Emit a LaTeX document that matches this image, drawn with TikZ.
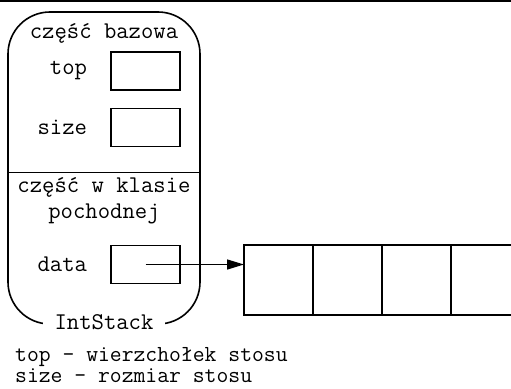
\documentclass[tikz,border=0pt]{standalone}
\usepackage{fontspec}
\usetikzlibrary{positioning,arrows.meta}
\tikzset{
  field/.style={draw,line width=1.5pt,minimum width=69pt,minimum height=38pt,inner sep=0pt},
  cell/.style={draw,line width=1.5pt,minimum width=69pt,minimum height=70pt,inner sep=0pt,outer sep=0pt},
  txt/.style={inner sep=2pt}
}
\begin{document}
\begin{tikzpicture}[x=1pt,y=-1pt,font=\ttfamily\fontsize{24}{26}\selectfont]
\useasboundingbox (0,0) rectangle (511,388);
\clip (0,0) rectangle (511,388);
\draw [line width=1.7pt] (0,1) -- (511,1);
% object outline
\draw [line width=1.6pt,rounded corners=42pt] (8,12) rectangle (200,324);
\draw [line width=1.6pt] (8,172.5) -- (200,172.5);
% base part
\node [txt] (base) at (104,33) {część bazowa};
\node [field] (topbox) at (145.5,71) {};
\node [txt,left=21pt of topbox] (toplbl) {top};
\node [field] (sizebox) at (145.5,127.5) {};
\node [txt,left=21pt of sizebox] (sizelbl) {size};
% derived part
\node [txt,align=center] (derived) at (104,201) {część w klasie\\pochodnej};
\node [field] (databox) at (145.5,264.5) {};
\node [txt,left=21pt of databox] (datalbl) {data};
\node [fill=white,inner xsep=12pt,inner ysep=2pt] (name) at (104,322) {IntStack};
% array
\node [cell] (c1) at (278.5,280) {};
\foreach \i [count=\j from 2] in {1,...,4} {\node [cell,right=0pt of c\i] (c\j) {};}
\draw [-{Triangle[length=17pt,width=10pt]},line width=1.5pt] (databox.center) -- (databox.center -| c1.west);
% legend
\node [inner sep=0pt,anchor=base west,font=\ttfamily\fontsize{23}{24}\selectfont] (lgtop) at (15,361) {top - wierzchołek stosu};
\node [inner sep=0pt,anchor=base west,font=\ttfamily\fontsize{23}{24}\selectfont] (lgsize) at (15,382) {size - rozmiar stosu};
\end{tikzpicture}
\end{document}
